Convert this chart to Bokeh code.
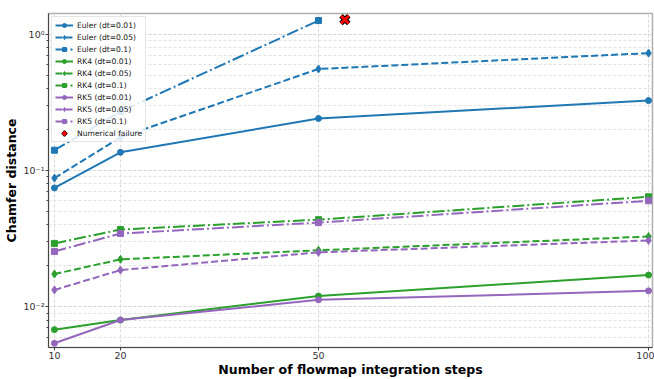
from bokeh.plotting import figure
from bokeh.models import (FixedTicker, LogTicker, CustomJSTickFormatter, Legend, LegendItem, Range1d)
from bokeh.embed import file_html
from bokeh.resources import INLINE

steps = [10, 20, 50, 100]
steps_euler_01 = [10, 20, 50]
euler_001 = [0.0746, 0.136, 0.241, 0.326]
euler_005 = [0.088, 0.175, 0.556, 0.727]
euler_01 = [0.141, 0.271, 1.26]
rk4_001 = [0.0068, 0.0080, 0.0120, 0.0171]
rk4_005 = [0.0174, 0.0223, 0.0260, 0.0328]
rk4_01 = [0.0292, 0.0369, 0.0436, 0.0642]
rk5_001 = [0.0054, 0.0080, 0.01125, 0.0131]
rk5_005 = [0.0133, 0.0186, 0.0251, 0.0307]
rk5_01 = [0.0255, 0.0345, 0.0415, 0.0600]
failure_x = [54]
failure_y = [1.28]

BLUE, GREEN, PURPLE = "#1f77b4", "#2ca02c", "#9467bd"
FONT = "DejaVu Sans"

p = figure(width=654, height=379, y_axis_type="log", output_backend="svg",
           toolbar_location=None, x_range=Range1d(9.1, 100.6),
           y_range=Range1d(0.00503, 1.42), min_border_left=48, min_border_right=2,
           min_border_top=13, min_border_bottom=0)

p.outline_line_color = "#b0b0b0"
p.outline_line_width = 1.5

series = [
    ("Euler (dt=0.01)", steps, euler_001, BLUE, "solid", "circle", 6),
    ("Euler (dt=0.05)", steps, euler_005, BLUE, "7 3", "diamond", 8),
    ("Euler (dt=0.1)", steps_euler_01, euler_01, BLUE, "12 3 2 3", "square", 6),
    ("RK4 (dt=0.01)", steps, rk4_001, GREEN, "solid", "circle", 6),
    ("RK4 (dt=0.05)", steps, rk4_005, GREEN, "7 3", "diamond", 8),
    ("RK4 (dt=0.1)", steps, rk4_01, GREEN, "12 3 2 3", "square", 6),
    ("RK5 (dt=0.01)", steps, rk5_001, PURPLE, "solid", "circle", 6),
    ("RK5 (dt=0.05)", steps, rk5_005, PURPLE, "7 3", "diamond", 8),
    ("RK5 (dt=0.1)", steps, rk5_01, PURPLE, "12 3 2 3", "square", 6),
]

items = []
for label, xs, ys, color, dash, marker, size in series:
    l = p.line(xs, ys, line_color=color, line_width=2, line_dash=dash)
    s = p.scatter(xs, ys, marker=marker, size=size, fill_color=color, line_color=color)
    items.append(LegendItem(label=label, renderers=[l, s]))

f1 = p.scatter(failure_x, failure_y, marker="x", size=11, line_color="black", line_width=5)
f2 = p.scatter(failure_x, failure_y, marker="x", size=11, line_color="red", line_width=3)
items.append(LegendItem(label="Numerical failure", renderers=[f1, f2]))

legend = Legend(items=items, location="top_left", label_text_font=FONT,
                label_text_font_size="7.6px", label_text_color="#111111",
                label_height=10, glyph_height=10,
                glyph_width=18, spacing=2, padding=3, margin=3,
                border_line_color="#cccccc", background_fill_alpha=0.85,
                label_standoff=4)
p.add_layout(legend)

p.xaxis.ticker = FixedTicker(ticks=steps)
p.yaxis.ticker = LogTicker(num_minor_ticks=10)
p.yaxis.formatter = CustomJSTickFormatter(code="""
const sup = {'-':'\u207b','0':'\u2070','1':'\u00b9','2':'\u00b2','3':'\u00b3','4':'\u2074','5':'\u2075','6':'\u2076','7':'\u2077','8':'\u2078','9':'\u2079'};
const e = Math.round(Math.log10(tick));
return '10' + String(e).split('').map(c => sup[c]).join('');
""")

for ax in [p.xaxis[0], p.yaxis[0]]:
    ax.major_label_text_font = FONT
    ax.major_label_text_font_size = "9.5px"
    ax.major_label_text_color = "#333333"
    ax.major_label_standoff = 2
    ax.axis_label_text_font = FONT
    ax.axis_label_text_font_size = "12.5px"
    ax.axis_label_text_font_style = "bold"
    ax.axis_label_text_color = "black"
    ax.axis_line_color = "#444444"
    ax.major_tick_line_color = "#444444"
    ax.minor_tick_line_color = "#444444"
    ax.major_tick_out = 3
    ax.major_tick_in = 0
    ax.minor_tick_out = 2
    ax.minor_tick_in = 0

p.xaxis.axis_label = "Number of flowmap integration steps"
p.yaxis.axis_label = "Chamfer distance"
p.xaxis.axis_label_standoff = 0
p.xaxis.major_label_standoff = 1
p.yaxis.axis_label_standoff = 2
p.yaxis.major_label_standoff = 1

p.xgrid.grid_line_color = "#d9d9d9"
p.xgrid.grid_line_dash = "3 2"
p.ygrid.grid_line_color = "#d9d9d9"
p.ygrid.grid_line_dash = "3 2"
p.ygrid.minor_grid_line_color = "#e3e3e3"
p.ygrid.minor_grid_line_dash = "3 2"

open("out.html", "w").write(file_html(p, INLINE))
